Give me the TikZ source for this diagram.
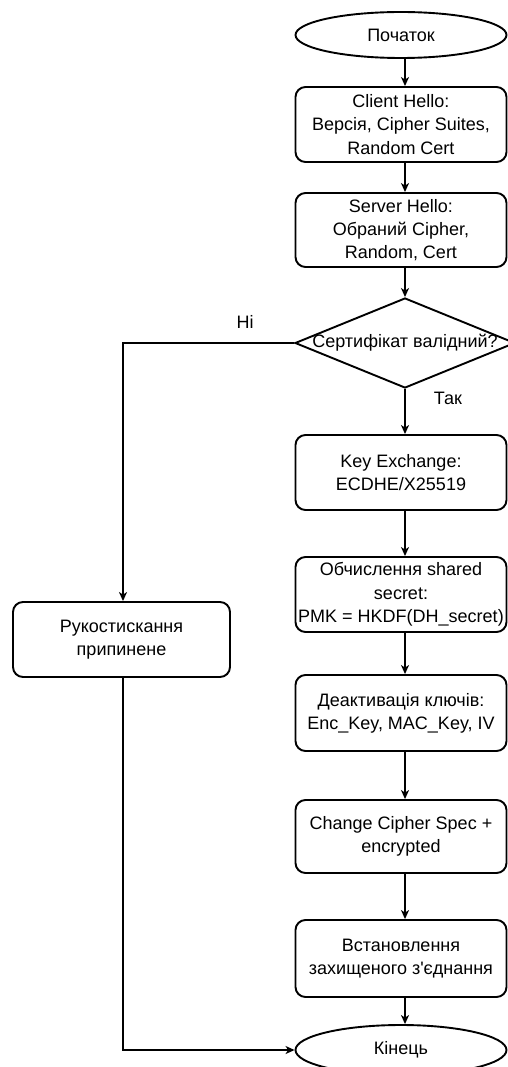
\documentclass[tikz,border=0pt]{standalone}
\usepackage{fontspec}
\setmainfont{Liberation Sans}[Ligatures=TeXOff]
\usetikzlibrary{shapes.geometric,arrows.meta}
\begin{document}
\begin{tikzpicture}[x=1pt,y=-1pt,
  every node/.style={font=\fontsize{18}{23.3}\selectfont, align=center, text=black},
  stepbox/.style={draw, line width=1.9pt, rounded corners=10pt, minimum width=211pt, inner sep=0pt},
  termbox/.style={draw, ellipse, line width=1.9pt, minimum width=211pt, inner sep=0pt},
  decbox/.style={draw, diamond, line width=1.9pt, minimum width=220pt, minimum height=90pt, inner sep=0pt},
  flow/.style={line width=1.3pt, -{Stealth[length=9pt,width=8pt,inset=2.5pt]}}
]
\useasboundingbox (0,0) rectangle (507,1067);
\fill[white] (0,0) rectangle (507,1067);

% main column
\node[termbox, minimum height=46pt] (start) at (401,35) {Початок};
\node[stepbox, minimum height=75pt] (ch) at (401,124.5) {Client Hello:\\Версія, Cipher Suites,\\Random Cert};
\node[stepbox, minimum height=74pt] (sh) at (401,230) {Server Hello:\\Обраний Cipher,\\Random, Cert};
\node[decbox] (dec) at (405,343) {};
\node (dect) at (405,343) {Сертифікат валідний?};
\node[stepbox, minimum height=75pt] (ke) at (401,472.5) {Key Exchange:\\ECDHE/X25519};
\node[stepbox, minimum height=75pt] (ob) at (401,594.5) {Обчислення shared\\secret:\\PMK = HKDF(DH\_secret)};
\node[stepbox, minimum height=76pt] (de) at (401,713) {Деактивація ключів:\\Enc\_Key, MAC\_Key, IV};
\node[stepbox, minimum height=73pt] (cc) at (401,836.5) {Change Cipher Spec +\\encrypted};
\node[stepbox, minimum height=77pt] (vs) at (401,958.5) {Встановлення\\захищеного з'єднання};
\node[termbox, minimum height=50pt] (end) at (401,1050) {Кінець};

% rejection branch
\node[stepbox, minimum width=217pt, minimum height=75pt] (rk) at (121.5,639.5) {Рукостискання\\припинене};

% connector axes
\coordinate (axis) at (405,0);
\coordinate (laxis) at (123,0);

\draw[flow] (start.south -| axis) -- (ch.north -| axis);
\draw[flow] (ch.south -| axis) -- (sh.north -| axis);
\draw[flow] (sh.south -| axis) -- (dec.north);
\draw[flow] (dec.south) -- (ke.north -| axis);
\draw[flow] (ke.south -| axis) -- (ob.north -| axis);
\draw[flow] (ob.south -| axis) -- (de.north -| axis);
\draw[flow] (de.south -| axis) -- (cc.north -| axis);
\draw[flow] (cc.south -| axis) -- (vs.north -| axis);
\draw[flow] (vs.south -| axis) -- (end.north -| axis);

\draw[flow] (dec.west) -- (dec.west -| laxis) -- (rk.north -| laxis);
\draw[flow] (rk.south -| laxis) -- (end.west -| laxis) -- (end.west);

\node (no) at (245,322) {Ні};
\node (yes) at (448,398) {Так};
\end{tikzpicture}
\end{document}
